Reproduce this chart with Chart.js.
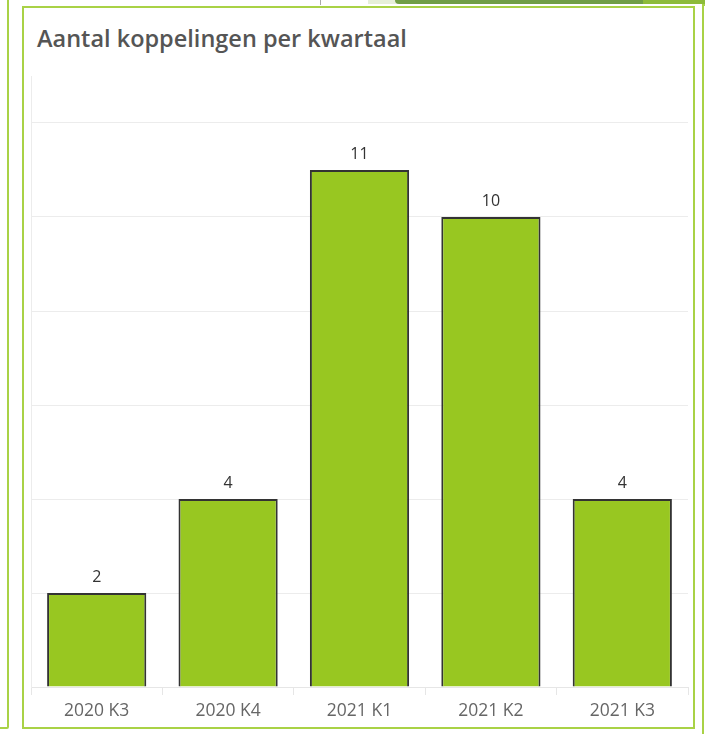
<!DOCTYPE html>
<html>
<head>
<meta charset="utf-8">
<script src="https://cdn.jsdelivr.net/npm/chart.js@4"></script>
<style>
  html, body { margin: 0; padding: 0; background: #fff; }
  body { width: 705px; height: 734px; position: relative; overflow: hidden; }
  .deco { position: absolute; }
  #left-panel { left: -10px; top: -4px; width: 15px; height: 729px; border: 2px solid #a9d246; border-radius: 2px; }
  #right-panel { left: 702px; top: 4px; width: 20px; height: 740px; border: 2px solid #a9d246; }
  #top-pale { left: 368px; top: 0; width: 30px; height: 4px; background: #e6efd9; }
  #top-dark { left: 395px; top: 0; width: 250px; height: 4px; background: #6f9e45; border-radius: 0 0 0 4px; }
  #top-light { left: 643px; top: 0; width: 62px; height: 4px; background: #8dbb3a; }
  #top-tick { left: 320px; top: 0; width: 1px; height: 5px; background: #aaa; }
  #panel { left: 22px; top: 6px; width: 669px; height: 719px; border: 2px solid #a9d246; }
  #title { position: absolute; left: 37px; top: 22px; font: 600 23.5px "Open Sans", sans-serif; color: #555; white-space: nowrap; }
  #chart { position: absolute; left: 0; top: 0; }
</style>
</head>
<body>
<div class="deco" id="left-panel"></div>
<div class="deco" id="right-panel"></div>
<div class="deco" id="top-pale"></div>
<div class="deco" id="top-dark"></div>
<div class="deco" id="top-light"></div>
<div class="deco" id="top-tick"></div>
<div class="deco" id="panel"></div>
<div id="title">Aantal koppelingen per kwartaal</div>
<canvas id="chart" width="705" height="734"></canvas>
<script>
const QUARTERS = ['2020 K3', '2020 K4', '2021 K1', '2021 K2', '2021 K3'];
const KOPPELINGEN = [2, 4, 11, 10, 4];

// draws the value above each bar
const barLabels = {
  id: 'barLabels',
  afterDatasetsDraw(chart) {
    const ctx = chart.ctx;
    const meta = chart.getDatasetMeta(0);
    ctx.save();
    ctx.font = '16px "Open Sans", sans-serif';
    ctx.fillStyle = '#333';
    ctx.textAlign = 'center';
    ctx.textBaseline = 'bottom';
    meta.data.forEach((bar, i) => {
      ctx.fillText(String(KOPPELINGEN[i]), bar.x, bar.y - 8);
    });
    ctx.restore();
  },
};

new Chart(document.getElementById('chart'), {
  type: 'bar',
  data: {
    labels: QUARTERS,
    datasets: [{
      data: KOPPELINGEN,
      backgroundColor: '#98c721',
      borderColor: '#333',
      borderWidth: 2,
      categoryPercentage: 1,
      barPercentage: 0.755,
    }],
  },
  options: {
    responsive: false,
    animation: false,
    events: [],
    layout: { padding: { left: 31, right: 17, top: 76, bottom: 6 } },
    plugins: {
      legend: { display: false },
      tooltip: { enabled: false },
    },
    scales: {
      x: {
        grid: {
          offset: true,
          drawOnChartArea: false,
          drawTicks: true,
          tickLength: 8,
          color: '#e6e6e6',
        },
        border: { display: true, color: '#e6e6e6' },
        ticks: {
          color: '#666',
          padding: 6,
          font: { family: '"Open Sans", sans-serif', size: 17.5 },
        },
      },
      y: {
        min: 0,
        max: 13,
        ticks: { display: false, stepSize: 2 },
        grid: {
          drawTicks: false,
          color: (c) => (c.tick && c.tick.value % 2 === 0 ? '#ececec' : 'transparent'),
        },
        border: { display: true, color: '#ececec' },
      },
    },
  },
  plugins: [barLabels],
});
</script>
</body>
</html>
